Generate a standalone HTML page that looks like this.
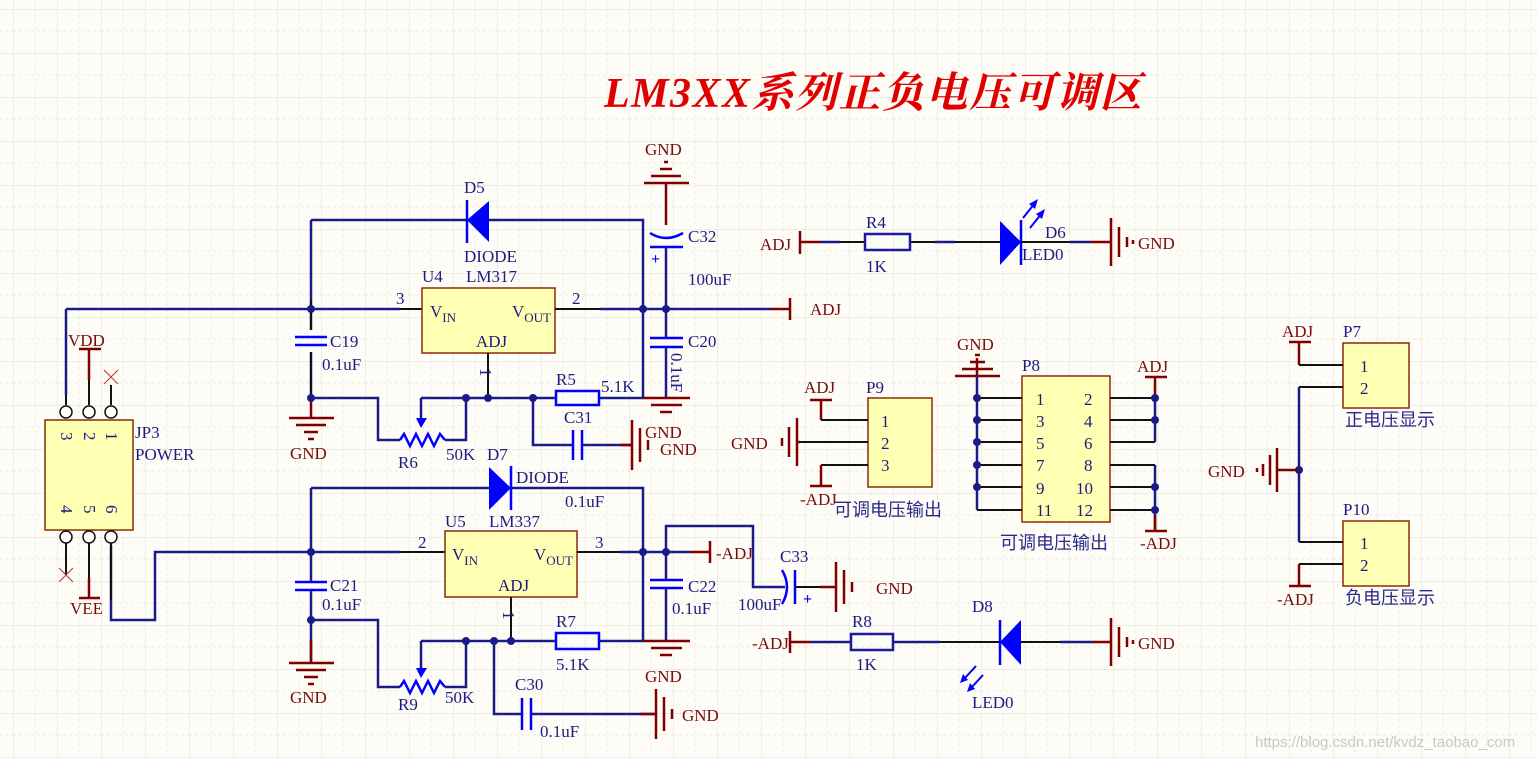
<!DOCTYPE html>
<html><head><meta charset="utf-8"><style>
html,body{margin:0;padding:0;background:#fdfcf6;}
svg{display:block;}
text{font-family:"Liberation Serif","Noto Serif CJK SC",serif;font-size:17px;}
.n{fill:#1c1c80;}
.r{fill:#7a0c0c;}
.cjk{font-family:"Liberation Serif","Noto Sans CJK SC",sans-serif;fill:#2a2a8a;font-size:18px;}
.w{stroke:#1a1a8a;stroke-width:2.5;fill:none;}
.k{stroke:#111;stroke-width:2;fill:none;}
.p{stroke:#800000;stroke-width:2.5;fill:none;}
.c{stroke:#0000ff;stroke-width:2.5;fill:none;}
.box{fill:#ffffb4;stroke:#8a2a0a;stroke-width:1.5;}
.d{fill:#1a1a8a;}
</style></head><body>
<svg width="1537" height="758" viewBox="0 0 1537 758" xmlns="http://www.w3.org/2000/svg">
<defs>
<pattern id="g" x="13" y="9" width="44" height="44" patternUnits="userSpaceOnUse">
<path d="M0 0V44M0 0H44" stroke="#e4e4da" stroke-width="1.2" fill="none"/>
<path d="M22 0V44M0 22H44" stroke="#ecece2" stroke-width="1" stroke-dasharray="3 3" fill="none"/>
</pattern>
</defs>
<rect width="1537" height="758" fill="url(#g)"/>

<text x="604" y="107" style="font-size:42px;letter-spacing:1.5px;font-weight:bold;font-style:italic;fill:#e00000;font-family:'Liberation Serif','Noto Serif CJK SC',serif">LM3XX系列正负电压可调区</text>

<!-- ===== TOP REGULATOR ===== -->
<path class="w" d="M311 220H467M489 220H643V398"/>
<polygon points="467,220 489,201 489,242" fill="#0000ff"/>
<path class="c" d="M467 200V243"/>
<text class="n" x="464" y="193">D5</text>
<text class="n" x="464" y="262">DIODE</text>
<text class="n" x="422" y="282">U4</text>
<text class="n" x="466" y="282">LM317</text>
<path class="w" d="M66 309H400"/><path class="k" d="M400 309H422"/>
<path class="w" d="M311 220V330M311 352V398"/>
<path class="k" d="M311 300V330M311 352V398"/>
<path class="c" d="M295 337H327M295 345H327"/>
<text class="n" x="330" y="347">C19</text>
<text class="n" x="322" y="370">0.1uF</text>
<path class="p" d="M311 398V418M289 418H334M296 425H326M304 432H318M308 439H314"/>
<text class="r" x="290" y="459">GND</text>
<rect class="box" x="422" y="288" width="133" height="65"/>
<text class="n" x="430" y="317">V<tspan font-size="13" dy="5">IN</tspan></text>
<text class="n" x="512" y="317">V<tspan font-size="13" dy="5">OUT</tspan></text>
<text class="n" x="476" y="347" font-size="14">ADJ</text>
<text class="n" x="396" y="304" font-size="15">3</text>
<text class="n" x="572" y="304" font-size="15">2</text>
<path class="k" d="M555 309H600"/><path class="w" d="M600 309H770"/><path class="p" d="M770 309H790M790 298V320"/>
<text class="r" x="810" y="315">ADJ</text>
<circle class="d" cx="311" cy="309" r="4"/><circle class="d" cx="643" cy="309" r="4"/><circle class="d" cx="666" cy="309" r="4"/>
<!-- C32 -->
<path class="p" d="M666 183V225M644 183H689M651 176H681M660 169H672M664 162H668"/>
<text class="r" x="645" y="155">GND</text>
<path class="c" d="M650 233Q666 243 683 233M650 247H683"/>
<path class="w" d="M666 247V309"/>
<text x="651" y="264" style="fill:#0000ff;font-size:16px;font-weight:bold">+</text>
<text class="n" x="688" y="242">C32</text>
<text class="n" x="688" y="285">100uF</text>
<!-- C20 -->
<path class="w" d="M666 309V338M666 347V398"/>
<path class="c" d="M650 338H683M650 347H683"/>
<text class="n" x="688" y="347">C20</text>
<text class="n" transform="translate(671,353) rotate(90)">0.1uF</text>
<path class="p" d="M643 398H690M651 405H682M660 412H672"/>
<text class="r" x="645" y="438">GND</text>
<!-- ADJ network -->
<path class="k" d="M488 353V398"/>
<text class="n" transform="translate(480,368) rotate(90)" font-size="15">1</text>
<path class="w" d="M421 398H555M600 398H643M311 398H378V440H400M445 440H466V398"/>
<rect x="556" y="391" width="43" height="14" fill="none" stroke="#0000ff" stroke-width="2.5"/>
<text class="n" x="556" y="385">R5</text>
<text class="n" x="601" y="392">5.1K</text>
<path class="c" d="M400 440l4 -6l6 12l6 -12l6 12l6 -12l6 12l6 -12l5 6"/>
<path class="w" d="M421 398V418"/><polygon points="416,418 427,418 421,428" fill="#0000ff"/>
<text class="n" x="398" y="468">R6</text>
<text class="n" x="446" y="460">50K</text>
<circle class="d" cx="311" cy="398" r="4"/><circle class="d" cx="466" cy="398" r="4"/><circle class="d" cx="488" cy="398" r="4"/><circle class="d" cx="533" cy="398" r="4"/>
<path class="w" d="M533 398V445H572M582 445H632"/>
<path class="c" d="M573 430V460M582 430V460"/>
<text class="n" x="564" y="423">C31</text>
<path class="p" d="M620 445H632M632 420V470M640 428V462M648 440V450"/>
<text class="r" x="660" y="455">GND</text>

<!-- ===== BOTTOM REGULATOR ===== -->
<path class="w" d="M311 488H489M511 488H643V641"/>
<polygon points="511,488 489,467 489,510" fill="#0000ff"/>
<path class="c" d="M511 466V510"/>
<text class="n" x="487" y="460">D7</text>
<text class="n" x="516" y="483">DIODE</text>
<text class="n" x="565" y="507">0.1uF</text>
<text class="n" x="445" y="527">U5</text>
<text class="n" x="489" y="527">LM337</text>
<path class="w" d="M111 545V620H155V552H400"/><path class="k" d="M400 552H445"/>
<path class="w" d="M311 488V582M311 590V663"/>
<path class="c" d="M295 582H327M295 590H327"/>
<text class="n" x="330" y="591">C21</text>
<text class="n" x="322" y="610">0.1uF</text>
<path class="p" d="M311 640V663M289 663H334M296 670H326M304 677H318M308 684H314"/>
<text class="r" x="290" y="703">GND</text>
<rect class="box" x="445" y="531" width="132" height="66"/>
<text class="n" x="452" y="560">V<tspan font-size="13" dy="5">IN</tspan></text>
<text class="n" x="534" y="560">V<tspan font-size="13" dy="5">OUT</tspan></text>
<text class="n" x="498" y="591" font-size="14">ADJ</text>
<text class="n" x="418" y="548" font-size="15">2</text>
<text class="n" x="595" y="548" font-size="15">3</text>
<path class="k" d="M577 552H620"/><path class="w" d="M620 552H690"/><path class="p" d="M690 552H710M710 541V563"/>
<text class="r" x="716" y="559">-ADJ</text>
<circle class="d" cx="311" cy="552" r="4"/><circle class="d" cx="643" cy="552" r="4"/><circle class="d" cx="666" cy="552" r="4"/><circle class="d" cx="311" cy="620" r="4"/>
<!-- C33 -->
<path class="w" d="M666 552V526H753V587H785"/>
<path class="c" d="M782 570Q792 587 782 604M795 570V604"/>
<path class="k" d="M795 587H820"/>
<path class="p" d="M820 587H835M836 562V612M844 570V604M852 582V592"/>
<text x="803" y="604" style="fill:#0000ff;font-size:16px;font-weight:bold">+</text>
<text class="n" x="780" y="562">C33</text>
<text class="n" x="738" y="610">100uF</text>
<text class="r" x="876" y="594">GND</text>
<!-- C22 -->
<path class="w" d="M666 552V580M666 588V641"/>
<path class="c" d="M650 580H683M650 588H683"/>
<text class="n" x="688" y="592">C22</text>
<text class="n" x="672" y="614">0.1uF</text>
<path class="p" d="M643 641H690M651 648H682M660 655H672"/>
<text class="r" x="645" y="682">GND</text>
<path class="k" d="M511 597V641"/>
<text class="n" transform="translate(503,611) rotate(90)" font-size="15">1</text>
<path class="w" d="M421 641H555M600 641H643M311 620H378V687H400M445 687H466V641"/>
<rect x="556" y="633" width="43" height="16" fill="none" stroke="#0000ff" stroke-width="2.5"/>
<text class="n" x="556" y="627">R7</text>
<text class="n" x="556" y="670">5.1K</text>
<path class="c" d="M400 687l4 -6l6 12l6 -12l6 12l6 -12l6 12l6 -12l5 6"/>
<path class="w" d="M421 641V668"/><polygon points="416,668 427,668 421,678" fill="#0000ff"/>
<text class="n" x="398" y="710">R9</text>
<text class="n" x="445" y="703">50K</text>
<circle class="d" cx="466" cy="641" r="4"/><circle class="d" cx="494" cy="641" r="4"/><circle class="d" cx="511" cy="641" r="4"/>
<path class="w" d="M494 641V714H522M531 714H655"/>
<path class="c" d="M522 698V730M531 698V730"/>
<text class="n" x="515" y="690">C30</text>
<text class="n" x="540" y="737">0.1uF</text>
<path class="p" d="M640 714H655M656 689V739M664 697V731M672 709V719"/>
<text class="r" x="682" y="721">GND</text>

<!-- ===== JP3 ===== -->
<rect class="box" x="45" y="420" width="88" height="110"/>
<path class="k" d="M66 309V405M89 365V405M111 385V405"/>
<path class="w" d="M66 309V395"/>
<path class="p" d="M79 349H101M89 349V380"/>
<text class="r" x="68" y="346">VDD</text>
<path d="M104 370L118 384M118 370L104 384" stroke="#c03030" stroke-width="1"/>
<circle cx="66" cy="412" r="6" fill="#fff" stroke="#111" stroke-width="1.5"/>
<circle cx="89" cy="412" r="6" fill="#fff" stroke="#111" stroke-width="1.5"/>
<circle cx="111" cy="412" r="6" fill="#fff" stroke="#111" stroke-width="1.5"/>
<circle cx="66" cy="537" r="6" fill="#fff" stroke="#111" stroke-width="1.5"/>
<circle cx="89" cy="537" r="6" fill="#fff" stroke="#111" stroke-width="1.5"/>
<circle cx="111" cy="537" r="6" fill="#fff" stroke="#111" stroke-width="1.5"/>
<path class="k" d="M66 543V575M89 543V578M111 543V600"/>
<path class="p" d="M89 578V598M79 598H100"/>
<text class="r" x="70" y="614">VEE</text>
<path d="M59 568L73 582M73 568L59 582" stroke="#c03030" stroke-width="1"/>
<text class="n" transform="translate(61,432) rotate(90)" font-size="16">3</text>
<text class="n" transform="translate(84,432) rotate(90)" font-size="16">2</text>
<text class="n" transform="translate(106,432) rotate(90)" font-size="16">1</text>
<text class="n" transform="translate(61,505) rotate(90)" font-size="16">4</text>
<text class="n" transform="translate(84,505) rotate(90)" font-size="16">5</text>
<text class="n" transform="translate(106,505) rotate(90)" font-size="16">6</text>
<text class="n" x="135" y="438">JP3</text>
<text class="n" x="135" y="460">POWER</text>

<!-- ===== R4/D6 ===== -->
<text class="r" x="760" y="250">ADJ</text>
<path class="p" d="M800 231V254M800 242H820"/>
<path class="k" d="M820 242H865M910 242H1000"/><path class="w" d="M820 242H840M935 242H955"/>
<rect x="865" y="234" width="45" height="16" fill="none" stroke="#1a1aa0" stroke-width="2.5"/>
<text class="n" x="866" y="228">R4</text>
<text class="n" x="866" y="272">1K</text>
<polygon points="1000,221 1000,265 1021,242" fill="#0000ff"/>
<path class="c" d="M1021 220V265"/>
<path class="k" d="M1021 242H1070"/><path class="w" d="M1070 242H1090"/>
<path class="p" d="M1090 242H1110M1111 218V266M1119 227V257M1127 237V247M1133 240V244"/>
<path d="M1023 218L1035 203M1030 228L1042 213" stroke="#0000ff" stroke-width="2"/>
<polygon points="1038,199 1029,204 1035,209" fill="#0000ff"/><polygon points="1045,209 1036,214 1042,219" fill="#0000ff"/>
<text class="n" x="1045" y="238">D6</text>
<text class="n" x="1022" y="260">LED0</text>
<text class="r" x="1138" y="249">GND</text>

<!-- ===== R8/D8 ===== -->
<text class="r" x="752" y="649">-ADJ</text>
<path class="p" d="M790 631V653M790 642H810"/>
<path class="w" d="M810 642H851M893 642H940"/><path class="k" d="M940 642H1000M1021 642H1060"/><path class="w" d="M1060 642H1092"/>
<rect x="851" y="634" width="42" height="16" fill="none" stroke="#1a1aa0" stroke-width="2.5"/>
<text class="n" x="852" y="627">R8</text>
<text class="n" x="856" y="670">1K</text>
<polygon points="1000,642 1021,620 1021,665" fill="#0000ff"/>
<path class="c" d="M1000 620V665"/>
<path class="p" d="M1092 642H1110M1111 618V666M1119 627V657M1127 637V647M1133 640V644"/>
<path d="M976 666L964 679M983 675L971 688" stroke="#0000ff" stroke-width="2"/>
<polygon points="960,683 963,674 968,680" fill="#0000ff"/><polygon points="967,692 970,683 975,689" fill="#0000ff"/>
<text class="n" x="972" y="612">D8</text>
<text class="n" x="972" y="708">LED0</text>
<text class="r" x="1138" y="649">GND</text>

<!-- ===== P9 ===== -->
<rect class="box" x="868" y="398" width="64" height="89"/>
<text class="n" x="866" y="393">P9</text>
<text class="r" x="804" y="393">ADJ</text>
<path class="p" d="M810 400H832M821 400V420"/><path class="k" d="M821 420H868M800 442H868M821 465H868"/>
<path class="p" d="M821 465V486M810 486H832"/>
<path class="p" d="M800 442H798M797 418V466M789 427V457M782 438V446"/>
<text class="r" x="731" y="449">GND</text>
<text class="n" x="881" y="427">1</text><text class="n" x="881" y="449">2</text><text class="n" x="881" y="471">3</text>
<text class="r" x="800" y="505">-ADJ</text>
<text class="cjk" x="834" y="516">可调电压输出</text>

<!-- ===== P8 ===== -->
<rect class="box" x="1022" y="376" width="88" height="146"/>
<text class="n" x="1022" y="371">P8</text>
<text class="r" x="957" y="350">GND</text>
<path class="p" d="M977 376V358M955 376H1000M962 369H993M970 362H985M975 355H980"/>
<path class="w" d="M977 376V510"/>
<path class="k" d="M977 398H1022M977 420H1022M977 442H1022M977 465H1022M977 487H1022M977 510H1022"/>
<circle class="d" cx="977" cy="398" r="4"/><circle class="d" cx="977" cy="420" r="4"/><circle class="d" cx="977" cy="442" r="4"/><circle class="d" cx="977" cy="465" r="4"/><circle class="d" cx="977" cy="487" r="4"/>
<text class="n" x="1036" y="405">1</text><text class="n" x="1084" y="405">2</text>
<text class="n" x="1036" y="427">3</text><text class="n" x="1084" y="427">4</text>
<text class="n" x="1036" y="449">5</text><text class="n" x="1084" y="449">6</text>
<text class="n" x="1036" y="471">7</text><text class="n" x="1084" y="471">8</text>
<text class="n" x="1036" y="494">9</text><text class="n" x="1076" y="494">10</text>
<text class="n" x="1036" y="516">11</text><text class="n" x="1076" y="516">12</text>
<text class="r" x="1137" y="372">ADJ</text>
<path class="p" d="M1145 377H1167M1155 377V395"/>
<path class="w" d="M1155 395V442M1155 465V530"/>
<path class="k" d="M1110 398H1155M1110 420H1155M1110 442H1155M1110 465H1155M1110 487H1155M1110 510H1155"/>
<path class="p" d="M1155 515V531M1145 531H1167"/>
<circle class="d" cx="1155" cy="398" r="4"/><circle class="d" cx="1155" cy="420" r="4"/><circle class="d" cx="1155" cy="487" r="4"/><circle class="d" cx="1155" cy="510" r="4"/>
<text class="cjk" x="1000" y="549">可调电压输出</text>
<text class="r" x="1140" y="549">-ADJ</text>

<!-- ===== P7 / P10 ===== -->
<rect class="box" x="1343" y="343" width="66" height="65"/>
<rect class="box" x="1343" y="521" width="66" height="65"/>
<text class="n" x="1343" y="337">P7</text>
<text class="n" x="1343" y="515">P10</text>
<text class="r" x="1282" y="337">ADJ</text>
<path class="p" d="M1289 342H1311M1299 342V365"/>
<path class="k" d="M1299 365H1343M1299 387H1343M1299 542H1343M1299 564H1343"/>
<path class="w" d="M1299 387V542"/>
<circle class="d" cx="1299" cy="470" r="4"/>
<path class="p" d="M1299 470H1278M1277 448V492M1270 455V485M1263 464V476M1257 468V472"/>
<text class="r" x="1208" y="477">GND</text>
<path class="p" d="M1299 564V586M1289 586H1311"/>
<text class="r" x="1277" y="605">-ADJ</text>
<text class="n" x="1360" y="372">1</text><text class="n" x="1360" y="394">2</text>
<text class="n" x="1360" y="549">1</text><text class="n" x="1360" y="571">2</text>
<text class="cjk" x="1345" y="426">正电压显示</text>
<text class="cjk" x="1345" y="604">负电压显示</text>

<text x="1255" y="747" style="font-family:'Liberation Sans',sans-serif;font-size:15px;fill:#c8c8c8">https://blog.csdn.net/kvdz_taobao_com</text>
</svg>
</body></html>
